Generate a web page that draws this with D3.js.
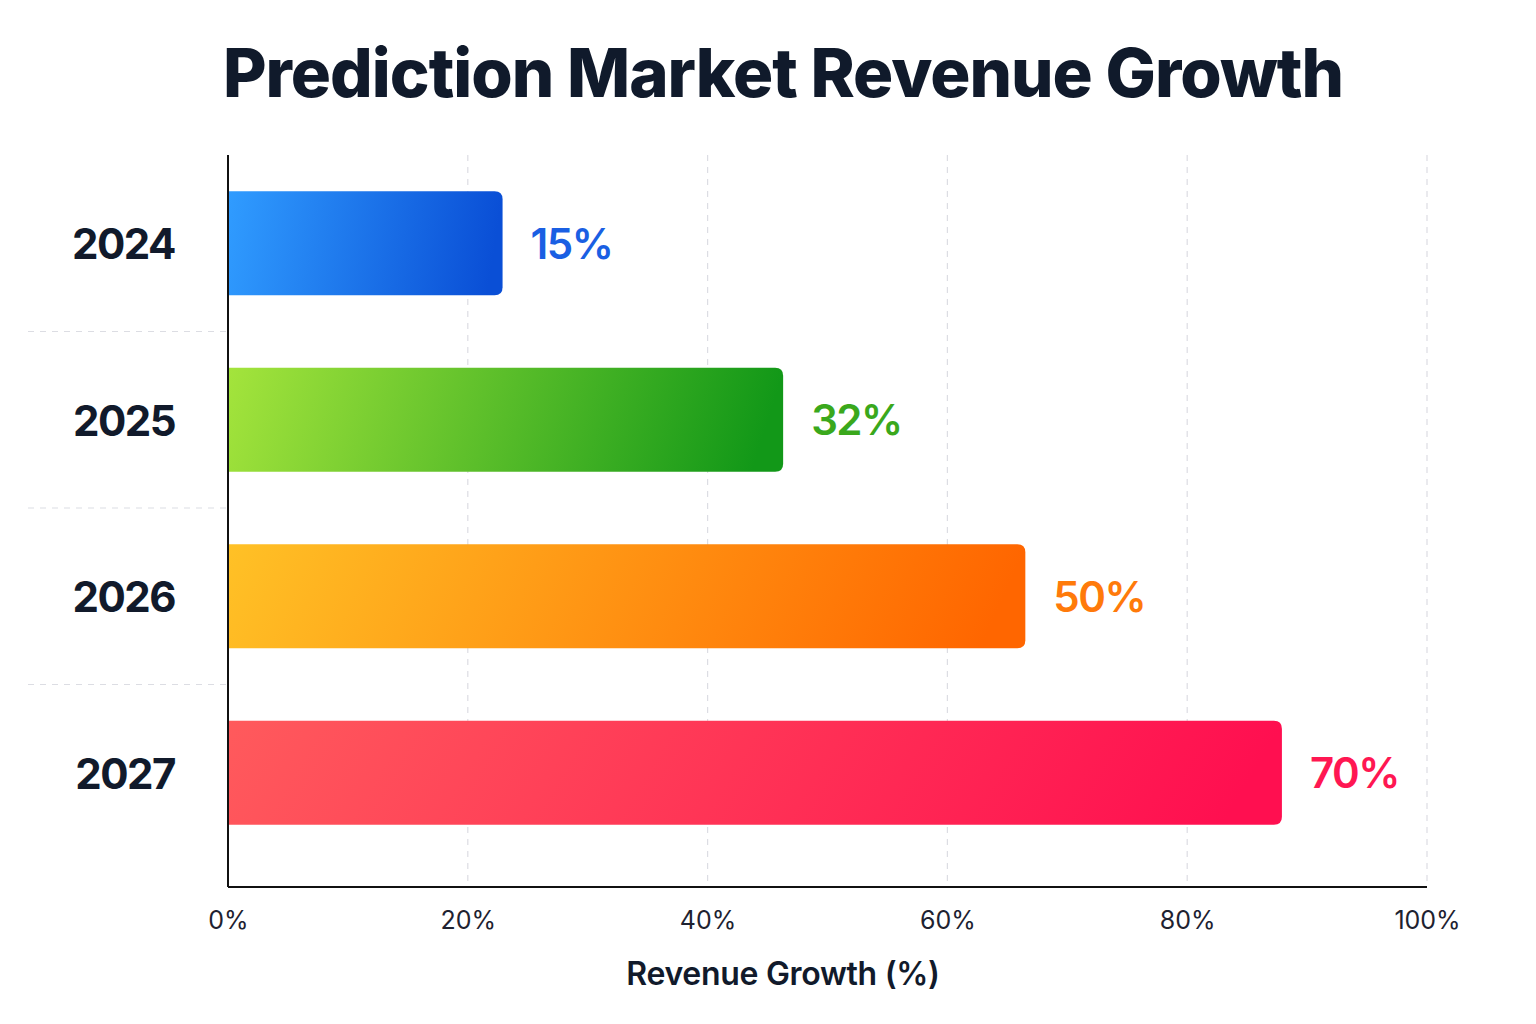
<!DOCTYPE html>
<html>
<head>
<meta charset="utf-8">
<script src="https://cdn.jsdelivr.net/npm/d3@7"></script>
<style>
  body { margin: 0; background: #ffffff; }
  svg { display: block; }
</style>
</head>
<body>
<div id="chart"></div>
<script>
// years on the y axis
var years = ["2024", "2025", "2026", "2027"];
// bar lengths as read against the x axis (the printed labels do not match the axis)
var barLength = [22.9, 46.3, 66.5, 87.9];
// the labels printed next to each bar
var valueLabels = ["15%", "32%", "50%", "70%"];
var xTicks = [0, 20, 40, 60, 80, 100];

var gradStops = [
  ["#309cff", "#0a4fd6"],
  ["#a4e43c", "#129818"],
  ["#ffc126", "#ff6600"],
  ["#ff5a5c", "#ff0f50"]
];
var labelColors = ["#1a5fe3", "#3aa81c", "#ff7a0a", "#ff1752"];

var width = 1536, height = 1024;
var margin = { top: 155, right: 109, bottom: 137, left: 228 };
var plotW = width - margin.left - margin.right;
var plotH = height - margin.top - margin.bottom;

var svg = d3.select("#chart").append("svg")
    .attr("width", width)
    .attr("height", height);

var defs = svg.append("defs");
gradStops.forEach(function(s, i) {
  var g = defs.append("linearGradient")
      .attr("id", "grad" + i)
      .attr("x1", "0%").attr("y1", "0%")
      .attr("x2", "100%").attr("y2", "6%");
  g.append("stop").attr("offset", "0%").attr("stop-color", s[0]);
  g.append("stop").attr("offset", "100%").attr("stop-color", s[1]);
});

var g = svg.append("g")
    .attr("transform", "translate(" + margin.left + "," + margin.top + ")");

var x = d3.scaleLinear().domain([0, 100]).range([0, plotW]);
var y = d3.scaleBand().domain(years).range([0, 706])
    .paddingInner(0.41).paddingOuter(0.205);

// title
svg.append("text")
    .attr("x", 783)
    .attr("y", 97)
    .attr("text-anchor", "middle")
    .attr("font-family", "Inter, 'Noto Sans', sans-serif")
    .attr("font-weight", 800)
    .attr("font-size", 67)
    .attr("letter-spacing", "-1")
    .attr("fill", "#101a2b")
    .text("Prediction Market Revenue Growth");

// vertical grid
g.append("g")
  .selectAll("line")
  .data(xTicks.slice(1))
  .enter().append("line")
    .attr("x1", function(d) { return x(d); })
    .attr("x2", function(d) { return x(d); })
    .attr("y1", 0)
    .attr("y2", plotH)
    .attr("stroke", "#dcdde3")
    .attr("stroke-width", 1.2)
    .attr("stroke-dasharray", "6,6");

// dashed separators between the year rows, left of the axis
var step = y.step();
g.append("g")
  .selectAll("line")
  .data(years.slice(1))
  .enter().append("line")
    .attr("x1", -200)
    .attr("x2", 0)
    .attr("y1", function(d) { return y(d) - step * y.paddingInner() / 2; })
    .attr("y2", function(d) { return y(d) - step * y.paddingInner() / 2; })
    .attr("stroke", "#dcdde3")
    .attr("stroke-width", 1.2)
    .attr("stroke-dasharray", "6,6");

// bars, rounded on the right end only
var r = 8;
g.selectAll(".bar")
  .data(years)
  .enter().append("path")
    .attr("class", "bar")
    .attr("fill", function(d, i) { return "url(#grad" + i + ")"; })
    .attr("d", function(d, i) {
      var w = x(barLength[i]), y0 = y(d), h = y.bandwidth();
      return "M0," + y0 + "H" + (w - r) +
        "Q" + w + "," + y0 + " " + w + "," + (y0 + r) +
        "V" + (y0 + h - r) +
        "Q" + w + "," + (y0 + h) + " " + (w - r) + "," + (y0 + h) +
        "H0Z";
    });

// value labels
g.selectAll(".val")
  .data(years)
  .enter().append("text")
    .attr("class", "val")
    .attr("x", function(d, i) { return x(barLength[i]) + 28; })
    .attr("y", function(d) { return y(d) + y.bandwidth() / 2; })
    .attr("dy", "0.37em")
    .attr("font-family", "Inter, 'Noto Sans', sans-serif")
    .attr("font-weight", 600)
    .attr("font-size", 42)
    .attr("letter-spacing", "-1.5")
    .attr("fill", function(d, i) { return labelColors[i]; })
    .text(function(d, i) { return valueLabels[i]; });

// y axis
var yAxis = g.append("g")
    .call(d3.axisLeft(y).tickSize(0).tickPadding(53));
yAxis.select(".domain").remove();
yAxis.selectAll("text")
    .attr("dy", "0.38em")
    .attr("font-family", "Inter, 'Noto Sans', sans-serif")
    .attr("font-weight", 700)
    .attr("font-size", 42)
    .attr("letter-spacing", "-1.5")
    .attr("fill", "#111a2b");

g.append("line")
    .attr("x1", 0).attr("x2", 0)
    .attr("y1", 0).attr("y2", plotH)
    .attr("stroke", "#111111")
    .attr("stroke-width", 2);

// x axis
var xAxis = g.append("g")
    .attr("transform", "translate(0," + plotH + ")")
    .call(d3.axisBottom(x).tickValues(xTicks).tickSize(0).tickPadding(24)
      .tickFormat(function(d) { return d + "%"; }));
xAxis.select(".domain").remove();
xAxis.selectAll("text")
    .attr("font-family", "Inter, 'Noto Sans', sans-serif")
    .attr("font-size", 25)
    .attr("fill", "#1e2230");

g.append("line")
    .attr("x1", 0).attr("x2", plotW)
    .attr("y1", plotH).attr("y2", plotH)
    .attr("stroke", "#111111")
    .attr("stroke-width", 2);

// x axis title
svg.append("text")
    .attr("x", 783)
    .attr("y", 985)
    .attr("text-anchor", "middle")
    .attr("font-family", "Inter, 'Noto Sans', sans-serif")
    .attr("font-weight", 600)
    .attr("font-size", 32)
    .attr("letter-spacing", "-0.3")
    .attr("fill", "#111a2b")
    .text("Revenue Growth (%)");
</script>
</body>
</html>
